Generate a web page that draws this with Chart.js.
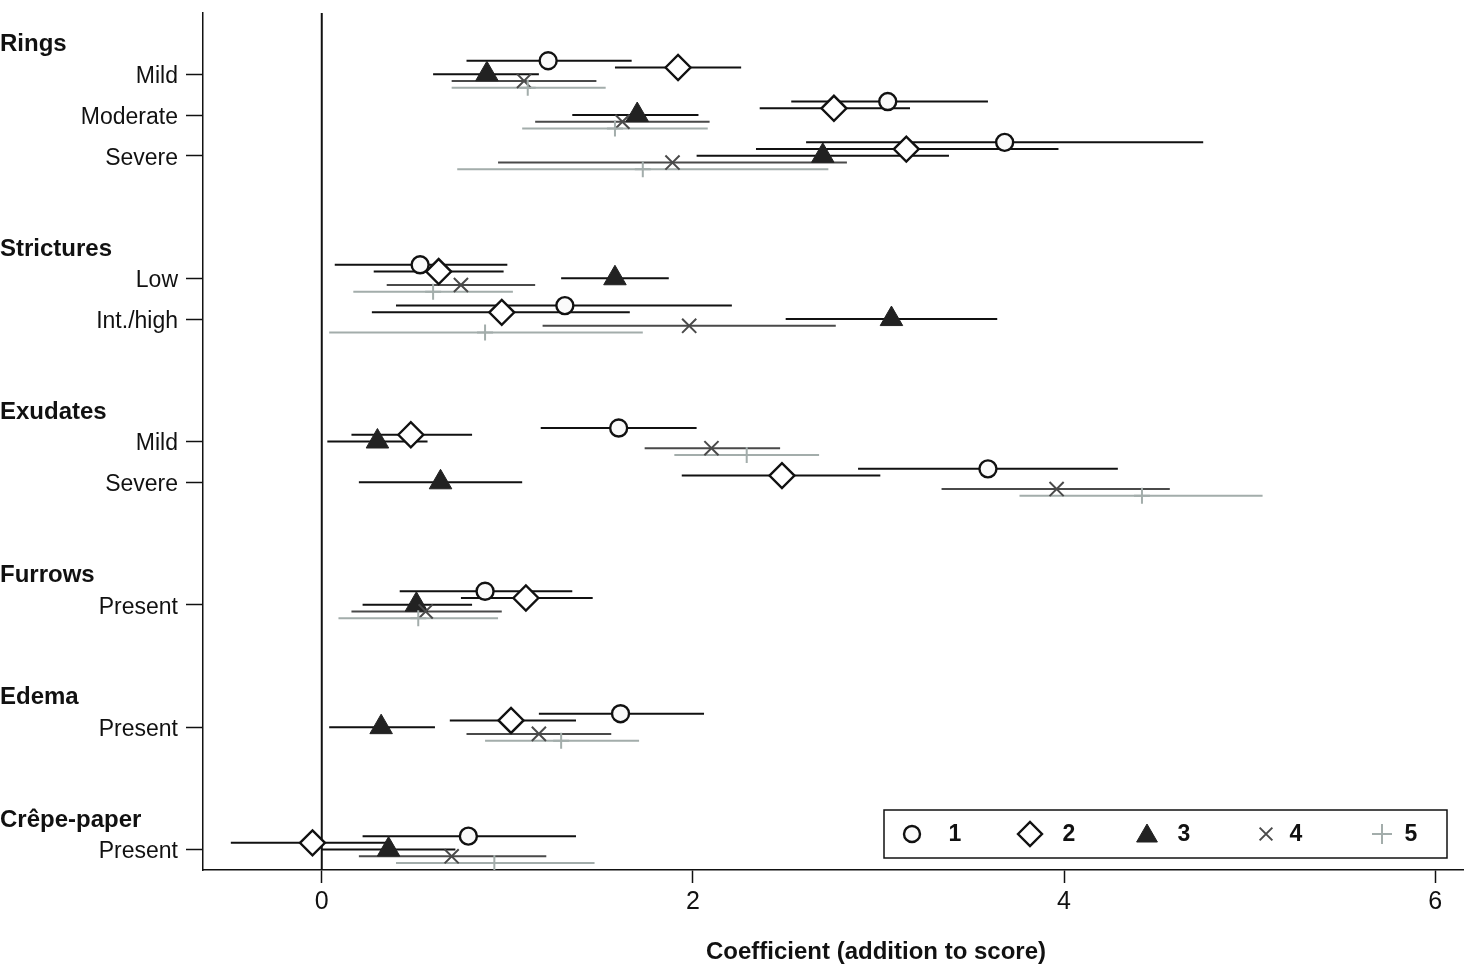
<!DOCTYPE html>
<html><head><meta charset="utf-8">
<script src="https://cdn.jsdelivr.net/npm/chart.js@4.4.0/dist/chart.umd.min.js"></script>
<style>html,body{margin:0;padding:0;background:#fff;}#wrap{width:1474px;height:973px;}</style>
</head><body><div id="wrap"><canvas id="c" width="1474" height="973"></canvas></div>
<script>
// ---- data ----
const groups = ['Rings', 'Strictures', 'Exudates', 'Furrows', 'Edema', 'Crêpe-paper'];
const ringsLevels = ['Mild', 'Moderate', 'Severe'];
const stricturesLevels = ['Low', 'Int./high'];
const exudatesLevels = ['Mild', 'Severe'];
const furrowsLevels = ['Present'];
const edemaLevels = ['Present'];
const crepeLevels = ['Present'];
const groupLevels = [ringsLevels, stricturesLevels, exudatesLevels, furrowsLevels, edemaLevels, crepeLevels];
const seriesNames = ['1', '2', '3', '4', '5'];
const xTickValues = [0, 2, 4, 6];
const xTitle = 'Coefficient (addition to score)';

// rows: Rings Mild, Moderate, Severe, Strictures Low, Int./high, Exudates Mild, Severe, Furrows, Edema, Crêpe-paper
const est1 = [1.22, 3.05, 3.68, 0.53, 1.31, 1.60, 3.59, 0.88, 1.61, 0.79];
const lo1  = [0.78, 2.53, 2.61, 0.07, 0.40, 1.18, 2.89, 0.42, 1.17, 0.22];
const hi1  = [1.67, 3.59, 4.75, 1.00, 2.21, 2.02, 4.29, 1.35, 2.06, 1.37];

const est2 = [1.92, 2.76, 3.15, 0.63, 0.97, 0.48, 2.48, 1.10, 1.02, -0.05];
const lo2  = [1.58, 2.36, 2.34, 0.28, 0.27, 0.16, 1.94, 0.75, 0.69, -0.49];
const hi2  = [2.26, 3.17, 3.97, 0.98, 1.66, 0.81, 3.01, 1.46, 1.37, 0.35];

const est3 = [0.89, 1.70, 2.70, 1.58, 3.07, 0.30, 0.64, 0.51, 0.32, 0.36];
const lo3  = [0.60, 1.35, 2.02, 1.29, 2.50, 0.03, 0.20, 0.22, 0.04, 0.00];
const hi3  = [1.17, 2.03, 3.38, 1.87, 3.64, 0.57, 1.08, 0.81, 0.61, 0.72];

const est4 = [1.09, 1.62, 1.89, 0.75, 1.98, 2.10, 3.96, 0.56, 1.17, 0.70];
const lo4  = [0.70, 1.15, 0.95, 0.35, 1.19, 1.74, 3.34, 0.16, 0.78, 0.20];
const hi4  = [1.48, 2.09, 2.83, 1.15, 2.77, 2.47, 4.57, 0.97, 1.56, 1.21];

const est5 = [1.11, 1.58, 1.73, 0.60, 0.88, 2.29, 4.42, 0.52, 1.29, 0.93];
const lo5  = [0.70, 1.08, 0.73, 0.17, 0.04, 1.90, 3.76, 0.09, 0.88, 0.40];
const hi5  = [1.53, 2.08, 2.73, 1.03, 1.73, 2.68, 5.07, 0.95, 1.71, 1.47];

// ---- layout / style ----
const FONT = "'Liberation Sans', Arial, Helvetica, sans-serif";
const INK = '#111111';
const rowLabels = [], rowPos = [], groupStart = [];
(function () {
  let p = 0;
  groupLevels.forEach(levels => {
    groupStart.push(p);
    levels.forEach(l => { rowLabels.push(l); rowPos.push(p); p++; });
    p += 2;
  });
})();
const seriesOffset = [-0.33, -0.165, 0, 0.165, 0.33];
const seriesData = [[est1, lo1, hi1], [est2, lo2, hi2], [est3, lo3, hi3], [est4, lo4, hi4], [est5, lo5, hi5]];
const seriesStyle = [
  {line: INK, pointStyle: 'circle', radius: 8.5, fill: '#fafafa', border: INK, bw: 2.4},
  {line: INK, pointStyle: 'rectRot', radius: 12.5, fill: '#ffffff', border: INK, bw: 2.4},
  {line: INK, pointStyle: 'triangle', radius: 13, fill: '#222222', border: '#222222', bw: 1},
  {line: '#4a4a4a', pointStyle: 'crossRot', radius: 10, fill: '#4a4a4a', border: '#4a4a4a', bw: 2},
  {line: '#a3adab', pointStyle: 'cross', radius: 8, fill: '#a3adab', border: '#a3adab', bw: 2}
];

const datasets = [];
// vertical reference line at 0
datasets.push({type: 'line', data: [{x: 0, y: -1.5}, {x: 0, y: 19.5}], borderColor: INK, borderWidth: 2,
  pointRadius: 0, order: 50});
seriesData.forEach((sd, s) => {
  const [est, lo, hi] = sd;
  const st = seriesStyle[s];
  const ci = [];
  est.forEach((e, i) => {
    const y = rowPos[i] + seriesOffset[s];
    ci.push({x: lo[i], y: y}, {x: hi[i], y: y}, {x: hi[i], y: null});
  });
  datasets.push({type: 'line', data: ci, borderColor: st.line, borderWidth: 2, pointRadius: 0,
    spanGaps: false, fill: false, order: 40 - s});
  datasets.push({type: 'scatter', data: est.map((e, i) => ({x: e, y: rowPos[i] + seriesOffset[s]})),
    pointStyle: st.pointStyle, pointRadius: st.radius, backgroundColor: st.fill, borderColor: st.border,
    borderWidth: st.bw, order: 10 - s});
});

const textPlugin = {
  id: 'texts',
  afterDraw(chart) {
    const ctx = chart.ctx, ys = chart.scales.y;
    ctx.save();
    ctx.font = 'bold 24px ' + FONT;
    ctx.fillStyle = INK;
    ctx.textAlign = 'left';
    ctx.textBaseline = 'middle';
    groups.forEach((g, i) => ctx.fillText(g, 0, ys.getPixelForValue(groupStart[i] - 0.72)));
    ctx.textAlign = 'center';
    ctx.fillText(xTitle, 876, 952);
    ctx.restore();
  }
};

const legendPlugin = {
  id: 'boxLegend',
  afterDraw(chart) {
    const ctx = chart.ctx, a = chart.chartArea;
    const w = 563, h = 48;
    const left = a.right - 16 - w, top = a.bottom - 12 - h;
    ctx.save();
    ctx.fillStyle = '#ffffff';
    ctx.fillRect(left, top, w, h);
    ctx.strokeStyle = INK; ctx.lineWidth = 1.5;
    ctx.strokeRect(left, top, w, h);
    const symX = [28, 146, 263, 382, 498];
    const txtX = [71, 185, 300, 412, 527];
    const legR = [8, 12, 12, 9, 10];
    const cy = top + h / 2;
    seriesNames.forEach((n, s) => {
      const st = seriesStyle[s];
      ctx.fillStyle = st.fill; ctx.strokeStyle = st.border; ctx.lineWidth = st.bw;
      const opts = {pointStyle: st.pointStyle, radius: legR[s], borderWidth: st.bw, rotation: 0};
      const py = st.pointStyle === 'triangle' ? cy + 2 : cy;
      if (Chart.helpers && Chart.helpers.drawPoint) Chart.helpers.drawPoint(ctx, opts, left + symX[s], py);
      ctx.fillStyle = INK;
      ctx.font = 'bold 23px ' + FONT;
      ctx.textAlign = 'center'; ctx.textBaseline = 'middle';
      ctx.fillText(n, left + txtX[s], cy + 1);
    });
    ctx.restore();
  }
};

new Chart(document.getElementById('c'), {
  data: {datasets},
  options: {
    responsive: false, animation: false, events: [],
    layout: {autoPadding: false, padding: {top: 13, right: 11, left: 0, bottom: 0}},
    plugins: {legend: {display: false}, tooltip: {enabled: false}},
    scales: {
      x: {
        type: 'linear', position: 'bottom', min: -0.64, max: 6.15,
        afterBuildTicks: s => { s.ticks = xTickValues.map(v => ({value: v})); },
        afterFit: s => { s.height = 103; s.paddingLeft = 0; s.paddingRight = 0; },
        grid: {drawOnChartArea: false, tickLength: 13, tickColor: INK, tickWidth: 1.5},
        border: {color: INK, width: 1.5},
        ticks: {font: {size: 25, family: FONT}, color: INK, padding: 4, maxRotation: 0, autoSkip: false},
        title: {display: false}
      },
      y: {
        type: 'linear', position: 'left', reverse: true, min: -1.5, max: 19.5,
        afterBuildTicks: s => { s.ticks = rowPos.map(v => ({value: v})); },
        afterFit: s => { s.width = 203; s.paddingTop = 0; s.paddingBottom = 0; },
        grid: {drawOnChartArea: false, tickLength: 17, tickColor: INK, tickWidth: 1.5},
        border: {color: INK, width: 1.5},
        ticks: {callback: v => rowLabels[rowPos.indexOf(v)], font: {size: 23, family: FONT}, color: INK,
          padding: 8, autoSkip: false, labelOffset: 2.5}
      }
    }
  },
  plugins: [textPlugin, legendPlugin]
});
</script></body></html>
